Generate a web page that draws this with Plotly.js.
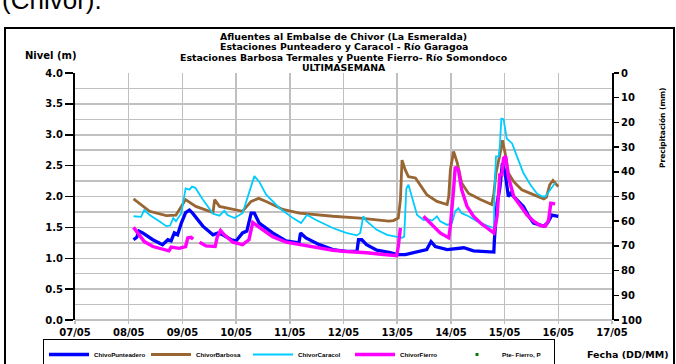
<!DOCTYPE html>
<html><head><meta charset="utf-8">
<script src="https://cdn.plot.ly/plotly-3.0.1.min.js"></script>
<style>html,body{margin:0;padding:0;background:#fff;}#chart{width:676px;height:364px;}</style>
</head><body><div id="chart"></div>
<script>
// ---- data (x = day of May, fractional) ----
const dayTicks = [7,8,9,10,11,12,13,14,15,16,17];
const dayLabels = ["07/05","08/05","09/05","10/05","11/05","12/05","13/05","14/05","15/05","16/05","17/05"];
const levelTicks = [0,0.5,1,1.5,2,2.5,3,3.5,4];
const levelLabels = ["0.0","0.5","1.0","1.5","2.0","2.5","3.0","3.5","4.0"];
const rainTicks = [0,10,20,30,40,50,60,70,80,90,100];

const puntX = [8.09,8.15,8.19,8.26,8.45,8.63,8.73,8.79,8.85,8.91,8.98,9.06,9.13,9.19,9.38,9.57,9.66,9.75,9.91,10.0,10.12,10.20,10.28,10.34,10.43,10.68,10.93,11.17,11.20,11.30,11.55,11.80,12.05,12.25,12.28,12.34,12.43,12.62,12.87,13.0,13.15,13.37,13.55,13.63,13.71,13.93,14.08,14.24,14.42,14.67,14.80,14.81,14.86,14.91,14.96,15.01,15.07,15.11,15.23,15.35,15.45,15.54,15.73,15.80,15.88,16.0];
const puntY = [1.30,1.34,1.44,1.41,1.30,1.22,1.30,1.28,1.41,1.38,1.57,1.74,1.78,1.73,1.52,1.38,1.41,1.38,1.30,1.28,1.41,1.44,1.73,1.73,1.57,1.41,1.28,1.25,1.41,1.33,1.22,1.14,1.11,1.11,1.30,1.30,1.22,1.13,1.09,1.06,1.06,1.11,1.14,1.27,1.19,1.14,1.15,1.17,1.12,1.10,1.10,1.30,1.89,2.13,2.54,2.38,2.00,2.05,1.95,1.84,1.68,1.57,1.52,1.57,1.70,1.68];

const barbX = [8.09,8.39,8.70,8.88,9.06,9.25,9.57,9.60,9.69,9.94,10.12,10.28,10.42,10.56,10.87,11.18,11.49,11.80,12.31,12.56,12.84,12.93,13.02,13.06,13.09,13.15,13.21,13.34,13.43,13.55,13.74,13.93,13.96,13.99,14.05,14.12,14.20,14.33,14.55,14.76,14.80,14.84,14.91,14.96,15.01,15.07,15.17,15.32,15.48,15.64,15.73,15.78,15.84,15.90,15.94,16.0];
const barbY = [1.96,1.76,1.69,1.70,1.95,1.84,1.74,1.95,1.84,1.80,1.76,1.92,1.97,1.92,1.79,1.73,1.70,1.68,1.65,1.63,1.60,1.61,1.65,1.95,2.59,2.43,2.32,2.30,2.19,2.03,1.92,1.87,2.00,2.43,2.73,2.54,2.22,2.05,1.95,1.87,2.05,2.38,2.67,2.91,2.70,2.38,2.24,2.11,2.05,2.00,1.96,1.99,2.19,2.26,2.22,2.16];

const caraX = [8.09,8.23,8.29,8.39,8.57,8.70,8.77,8.83,8.88,8.98,9.06,9.13,9.18,9.24,9.38,9.57,9.69,9.78,9.84,9.97,10.12,10.24,10.34,10.43,10.56,10.81,11.06,11.21,11.32,11.49,11.80,12.05,12.25,12.31,12.37,12.43,12.62,12.81,12.96,13.09,13.13,13.17,13.21,13.27,13.37,13.49,13.58,13.65,13.74,13.80,13.93,14.02,14.08,14.14,14.20,14.33,14.48,14.67,14.80,14.81,14.84,14.89,14.91,14.94,14.98,15.04,15.14,15.23,15.35,15.48,15.60,15.70,15.76,15.85,15.94];
const caraY = [1.68,1.67,1.78,1.70,1.60,1.52,1.53,1.65,1.60,1.73,2.13,2.11,2.16,2.14,1.95,1.72,1.69,1.77,1.70,1.65,1.73,2.05,2.33,2.24,2.03,1.81,1.65,1.57,1.70,1.62,1.49,1.41,1.37,1.41,1.68,1.60,1.46,1.38,1.35,1.33,1.35,2.13,2.19,2.00,1.70,1.62,1.63,1.61,1.68,1.60,1.54,1.57,1.76,1.81,1.73,1.68,1.60,1.53,1.49,2.05,2.65,2.65,2.81,3.26,3.25,2.94,2.86,2.65,2.38,2.19,2.05,2.00,2.00,2.11,2.22];

const fierX = [8.09,8.17,8.29,8.45,8.63,8.75,8.79,8.94,9.06,9.10,9.16,9.20,9.26,9.32,9.44,9.61,9.65,9.71,9.78,9.94,10.12,10.24,10.31,10.42,10.68,10.93,11.18,11.49,11.80,12.05,12.30,12.43,12.75,12.99,13.02,13.06,13.30,13.49,13.68,13.80,13.96,13.99,14.05,14.08,14.14,14.20,14.30,14.42,14.55,14.67,14.80,14.86,14.91,14.95,14.98,15.02,15.07,15.17,15.30,15.42,15.54,15.66,15.76,15.82,15.86,15.94];
const fierY = [1.50,1.41,1.27,1.19,1.14,1.12,1.18,1.16,1.19,1.33,1.34,1.31,null,1.26,1.20,1.19,1.35,1.45,1.38,1.26,1.22,1.30,1.58,1.51,1.35,1.26,1.22,1.18,1.13,1.11,1.10,1.09,1.06,1.04,1.19,1.49,null,1.68,1.52,1.41,1.33,1.52,2.11,2.48,2.43,2.11,1.84,1.68,1.57,1.49,1.41,1.68,2.35,2.35,2.62,2.65,2.32,2.00,1.84,1.70,1.60,1.53,1.52,1.62,1.89,1.88];

// precipitation at Pte- Fierro: no readings shown in the week
const rainX = [8.0];
const rainY = [null];

const seriesNames = ["ChivoPunteadero","ChivorBarbosa","ChivorCaracol","ChivorFierro","Pte- Fierro, P"];
const titleLines = ["Afluentes al Embalse de Chivor (La Esmeralda)","Estaciones Punteadero y Caracol - Río Garagoa","Estaciones Barbosa Termales y Puente Fierro- Río Somondoco","ULTIMASEMANA"];

// ---- layout geometry ----
const W = 676, H = 364;
const L = 75, R = 612, T = 73, B = 320;
const px = x => (x - L) / (R - L);
const py = y => (B - y) / (B - T);
const FONT = "DejaVu Sans, Arial, sans-serif";
const FONT2 = "Liberation Sans, Arial, sans-serif";
const grid = "#c0c0c0";

const traces = [
  {x: puntX, y: puntY, name: seriesNames[0], type: "scatter", mode: "lines", line: {color: "#0000ff", width: 3.3}},
  {x: barbX, y: barbY, name: seriesNames[1], type: "scatter", mode: "lines", line: {color: "#996633", width: 2.8}},
  {x: caraX, y: caraY, name: seriesNames[2], type: "scatter", mode: "lines", line: {color: "#00ccff", width: 1.8}},
  {x: fierX, y: fierY, name: seriesNames[3], type: "scatter", mode: "lines", connectgaps: false, line: {color: "#ff00ff", width: 3.4}},
  {x: rainX, y: rainY, name: seriesNames[4], type: "scatter", mode: "markers", yaxis: "y2", marker: {color: "#008000", symbol: "square", size: 3}}
];

const annotations = [];
titleLines.forEach((t, i) => {
  annotations.push({text: t, xref: "paper", yref: "paper", x: px(343.5), y: py(37 + i * 10),
    showarrow: false, xanchor: "center", yanchor: "middle",
    font: {family: FONT, size: 9.4, color: "#000", weight: "bold"}});
});
annotations.push({text: "Nivel (m)", xref: "paper", yref: "paper", x: px(23), y: py(56), showarrow: false,
  xanchor: "left", yanchor: "middle", font: {family: FONT, size: 10, color: "#000", weight: "bold"}});
annotations.push({text: "Fecha (DD/MM)", xref: "paper", yref: "paper", x: px(628), y: py(354), showarrow: false,
  xanchor: "center", yanchor: "middle", font: {family: FONT, size: 9.5, color: "#000", weight: "bold"}});
annotations.push({text: "Precipitación (mm)", xref: "paper", yref: "paper", x: px(662), y: py(128), showarrow: false,
  textangle: -90, xanchor: "center", yanchor: "middle", font: {family: FONT, size: 7.5, color: "#000", weight: "bold"}});
annotations.push({text: "(Chivor).", xref: "paper", yref: "paper", x: px(0), y: py(17), showarrow: false,
  xanchor: "left", yanchor: "bottom", font: {family: FONT2, size: 26, color: "#000"}});

const tickFont = {family: FONT, size: 10, color: "#000", weight: "bold"};

const layout = {
  width: W, height: H,
  margin: {l: L, r: W - R, t: T, b: H - B, pad: 0, autoexpand: false},
  paper_bgcolor: "#fff", plot_bgcolor: "#fff",
  showlegend: true,
  font: {family: FONT, color: "#000"},
  xaxis: {range: [7, 17], tickmode: "array", tickvals: dayTicks, ticktext: dayLabels,
    showgrid: true, gridcolor: grid, gridwidth: 1.5, zeroline: false, showline: false,
    ticks: "outside", ticklen: 3, tickcolor: grid, tickwidth: 1.5,
    tickfont: tickFont, fixedrange: true},
  yaxis: {range: [0, 4], tickmode: "array", tickvals: levelTicks, ticktext: levelLabels,
    showgrid: true, gridcolor: grid, gridwidth: 1.5, zeroline: true, zerolinecolor: grid, zerolinewidth: 1.5,
    minor: {dtick: 0.25, showgrid: true, gridcolor: grid, gridwidth: 1.5, ticks: ""},
    showline: true, linecolor: "#000", linewidth: 2, ticks: "outside", ticklen: 8, tickwidth: 1.5, tickcolor: "#000",
    tickfont: tickFont, fixedrange: true},
  yaxis2: {range: [100, 0], overlaying: "y", side: "right", tickmode: "array", tickvals: rainTicks,
    showgrid: false, zeroline: false, showline: true, linecolor: "#000", linewidth: 2,
    ticks: "outside", ticklen: 5, tickwidth: 1.5, tickcolor: "#000",
    tickfont: tickFont, fixedrange: true},
  yaxis3: {range: [100, 0], overlaying: "y", side: "right", tickmode: "array", tickvals: rainTicks,
    showgrid: false, zeroline: false, showline: false, showticklabels: false,
    ticks: "inside", ticklen: 4, tickwidth: 1.5, tickcolor: "#000", fixedrange: true},
  legend: {orientation: "h", x: px(43), y: py(339), xanchor: "left", yanchor: "top",
    bordercolor: "#000", borderwidth: 1, bgcolor: "#fff",
    font: {family: FONT2, size: 6.2, color: "#000", weight: "bold"}, itemwidth: 40, entrywidth: 47, entrywidthmode: "pixels",
    tracegroupgap: 0},
  annotations: annotations,
  shapes: [{type: "rect", xref: "paper", yref: "paper", x0: px(5), x1: px(674), y0: py(28), y1: py(400),
    line: {color: "#000", width: 2}, fillcolor: "rgba(0,0,0,0)", layer: "below"}]
};

Plotly.newPlot("chart", traces, layout, {displayModeBar: false, staticPlot: true});
</script></body></html>
